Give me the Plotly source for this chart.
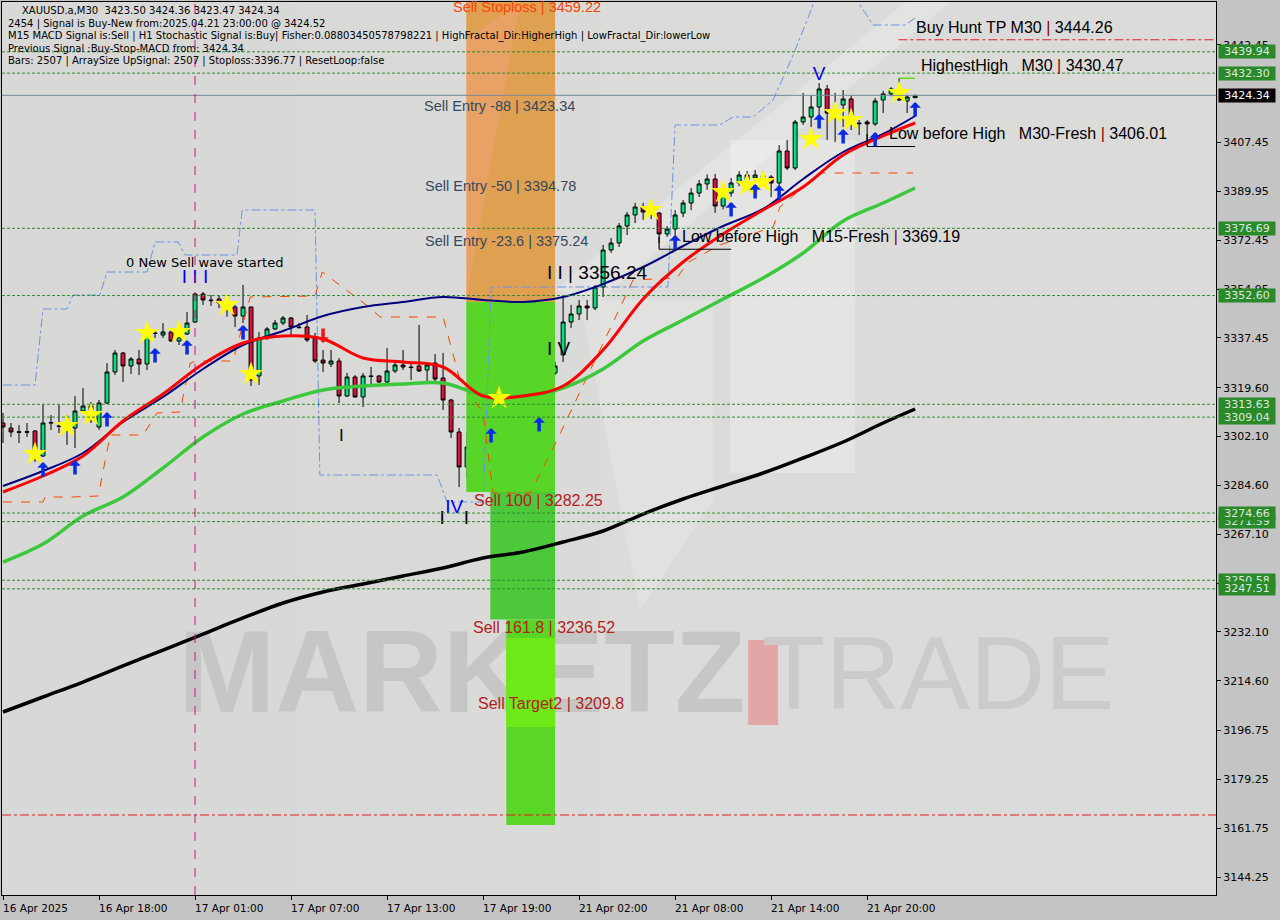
import plotly.graph_objects as go

# ---------------- data ----------------
bar_index = list(range(115))
open_ = [3306.93,3305.14,3303.80,3303.60,3304.07,3295.11,3306.90,3305.90,3305.50,3305.14,
         3311.23,3313.02,3305.50,3314.10,3325.21,3332.02,3327.36,3329.86,3328.07,3339.20,
         3338.47,3339.54,3336.30,3338.83,3343.12,3353.16,3351.00,3351.37,3349.90,3348.50,
         3345.27,3348.50,3323.78,3337.40,3340.62,3342.77,3344.56,3341.30,3341.33,3337.40,
         3329.50,3328.07,3329.15,3316.61,3323.42,3316.25,3323.80,3323.78,3321.62,3325.57,
         3327.72,3327.00,3327.36,3325.92,3328.43,3323.06,3315.17,3303.71,3291.17,3298.33,
         3296.54,3310.16,3317.30,3315.17,3319.30,3319.12,3317.33,3312.66,3321.26,3324.85,
         3331.30,3343.12,3345.99,3348.86,3348.14,3355.67,3368.92,3371.43,3377.53,3381.47,
         3384.33,3382.50,3382.18,3374.66,3376.45,3382.18,3385.77,3389.35,3392.58,3394.37,
         3384.69,3389.35,3392.93,3395.80,3394.70,3395.50,3395.08,3392.93,3404.40,3398.31,
         3414.79,3416.58,3420.17,3426.62,3418.00,3420.88,3423.04,3414.40,3414.80,3414.07,
         3422.68,3424.83,3423.75,3422.32,3423.50]
high = [3310.52,3306.93,3306.21,3306.93,3304.40,3313.74,3309.80,3313.38,3309.80,3316.61,
        3319.47,3314.46,3315.17,3328.43,3333.09,3332.40,3330.58,3333.09,3342.77,3340.26,
        3342.77,3340.26,3341.00,3346.71,3353.50,3353.87,3352.80,3352.80,3351.50,3349.22,
        3356.38,3348.60,3339.54,3341.33,3343.84,3345.27,3344.90,3342.80,3345.63,3339.18,
        3333.09,3333.09,3330.22,3324.85,3324.10,3324.85,3327.00,3324.10,3333.81,3329.50,
        3333.09,3328.80,3342.05,3328.80,3331.66,3332.02,3315.50,3305.14,3303.35,3300.12,
        3312.31,3316.25,3322.30,3322.34,3320.90,3319.47,3318.05,3322.34,3325.92,3328.79,
        3352.80,3349.22,3351.01,3351.00,3356.38,3370.72,3373.20,3378.60,3382.54,3385.80,
        3385.80,3386.00,3382.50,3377.50,3383.20,3386.80,3391.10,3394.00,3396.00,3396.16,
        3390.50,3394.70,3397.20,3397.20,3397.60,3397.00,3395.80,3406.55,3408.34,3415.51,
        3425.18,3424.47,3428.77,3428.05,3425.20,3426.26,3424.47,3415.50,3415.50,3423.40,
        3425.90,3427.30,3430.47,3424.50,3424.36]
low = [3299.77,3301.92,3299.77,3301.92,3292.96,3294.75,3304.43,3303.35,3299.05,3297.97,
       3310.87,3306.93,3304.43,3313.74,3324.14,3321.62,3324.49,3324.14,3325.92,3337.40,
       3337.40,3336.00,3334.90,3338.47,3342.77,3349.22,3348.90,3348.10,3345.00,3341.33,
       3342.77,3320.19,3320.55,3336.70,3340.26,3342.00,3338.47,3340.90,3335.96,3328.43,
       3325.21,3327.00,3314.10,3316.25,3316.00,3312.66,3319.83,3321.30,3321.26,3324.85,
       3325.92,3322.34,3325.21,3321.62,3321.62,3311.59,3301.56,3284.00,3287.22,3293.67,
       3294.75,3308.72,3316.60,3314.10,3317.70,3314.10,3310.52,3311.95,3319.83,3324.14,
       3328.79,3341.00,3343.84,3343.80,3347.40,3352.08,3367.90,3370.00,3374.30,3378.60,
       3379.70,3380.00,3371.43,3373.60,3372.50,3380.70,3383.20,3387.90,3390.50,3382.18,
       3383.50,3388.00,3391.80,3392.60,3393.30,3392.00,3387.92,3386.84,3397.59,3397.59,
       3413.72,3413.00,3414.40,3408.34,3407.60,3413.00,3411.92,3410.10,3408.30,3413.40,
       3418.00,3424.00,3422.30,3418.00,3423.47]
close = [3305.50,3303.71,3303.60,3303.80,3296.18,3306.93,3307.10,3305.70,3306.20,3311.23,
         3313.02,3311.23,3314.10,3325.21,3332.02,3327.36,3329.86,3328.07,3339.18,3339.00,
         3339.54,3336.32,3337.80,3342.77,3353.16,3351.01,3350.80,3349.94,3349.50,3345.27,
         3348.50,3322.34,3337.40,3340.62,3342.77,3344.56,3341.33,3341.10,3336.68,3329.15,
         3328.43,3329.15,3316.61,3323.42,3316.25,3323.78,3323.60,3321.62,3325.57,3327.72,
         3327.00,3326.80,3325.57,3327.72,3322.70,3315.17,3303.71,3291.17,3298.33,3296.54,
         3309.08,3315.53,3317.50,3319.12,3319.50,3317.33,3312.66,3320.19,3324.85,3327.36,
         3343.12,3345.99,3348.86,3348.14,3355.67,3368.92,3371.43,3377.53,3381.47,3384.33,
         3382.54,3383.60,3374.66,3376.45,3381.47,3385.77,3389.35,3392.58,3394.37,3384.69,
         3389.35,3392.93,3395.80,3394.01,3395.80,3394.00,3392.93,3404.40,3398.31,3414.79,
         3416.58,3420.17,3426.62,3418.02,3418.50,3423.04,3414.43,3414.20,3414.10,3422.32,
         3424.83,3426.62,3422.68,3423.75,3424.34]

ma_bars = [0,5,10,15,20,25,30,35,40,45,50,55,60,65,70,75,80,85,90,95,100,105,110,114]
ma_navy = [3284.36,3289.73,3296.18,3307.29,3316.25,3326.28,3334.88,3339.90,3345.27,3348.50,
           3350.29,3352.08,3351.01,3350.29,3352.08,3356.74,3362.83,3370.36,3377.53,3383.62,
           3394.37,3404.04,3410.49,3416.94]
ma_red = [3282.21,3287.94,3295.11,3307.65,3317.33,3328.07,3335.60,3338.11,3337.03,3330.22,
          3328.79,3327.00,3316.61,3316.61,3320.19,3333.09,3351.37,3364.62,3374.66,3383.26,
          3391.50,3402.97,3409.78,3414.43]
ma_green = [3257.12,3263.57,3273.61,3280.41,3290.81,3301.92,3310.16,3314.82,3318.76,3320.19,
            3320.91,3321.26,3316.97,3316.61,3319.47,3326.28,3336.32,3343.84,3351.37,3358.89,
            3367.85,3379.32,3385.77,3391.14]
ma_black = [3203.37,3208.75,3214.12,3219.86,3225.59,3231.32,3237.06,3242.43,3246.37,3249.24,
            3252.11,3254.97,3258.56,3260.71,3264.29,3268.23,3274.32,3279.70,3284.36,3289.01,
            3294.39,3300.12,3306.93,3311.95]

upper_ch_bars = [0,4,5,8,8.75,12.1,13,18,19,21.9,22.75,29.25,29.9,39,39.6,54.25,55.5,60,61,
                 83.1,84,89.6,91.25,93.75,96.25,98.75,101.1,101.9,106.5,107.1,108.75,112.75,114]
upper_ch_price = [3320.55,3320.55,3347.78,3347.78,3352.80,3352.80,3361.04,3361.04,3371.79,3371.79,
                  3367.13,3367.13,3383.26,3383.26,3288.30,3288.30,3278.62,3278.62,3355.67,
                  3355.67,3413.72,3413.72,3416.58,3416.58,3422.68,3438.80,3455.64,3465.70,3465.70,
                  3456.72,3449.55,3449.55,3452.06]
lower_ch_bars = [0,5,5.25,8.6,11.9,13.4,17.5,19.25,22.1,23.4,24.25,28.75,30.9,39,39.9,41.25,45.9,
                 47.1,55,57.1,60,61.25,65.9,69.25,74.6,78.75,84.25,85.5,89.6,96.25,97.1,102.1,113.75]
lower_ch_price = [3278.62,3278.62,3280.41,3280.41,3280.77,3302.63,3302.63,3310.52,3310.87,3328.43,
                  3329.15,3329.15,3352.08,3352.44,3361.04,3358.18,3348.14,3344.92,3344.92,3322.34,
                  3310.52,3281.85,3281.85,3300.84,3333.09,3358.18,3358.89,3364.27,3370.72,3377.17,
                  3384.33,3396.52,3396.52]

star_bars = [4,8,11,18,22,28,31,62,81,90,93,95,101,104,106,112]
star_price = [3295.82,3305.86,3309.80,3339.18,3339.54,3349.22,3324.49,3315.89,3383.26,3389.71,
              3392.22,3393.29,3408.70,3418.02,3415.51,3425.18]
up_arrow_bars = [5,9,13,19,23,30,61,67,84,91,94,97,102,105,109,114]
up_arrow_price = [3290.09,3290.81,3308.01,3330.94,3333.81,3339.18,3302.27,3306.21,3371.43,3383.26,
                  3389.71,3389.35,3414.79,3409.42,3408.34,3419.09]
down_arrow_bars = [40]
down_arrow_price = [3338.47]

level_prices = [3439.94, 3432.30, 3376.69, 3352.60, 3313.63, 3309.04, 3271.59, 3274.66, 3250.58, 3247.51]
current_price = 3424.34
buy_hunt_tp = 3444.26
buy_hunt_tp_start = 111.9
low_red_level = 3166.47
highest_high = 3430.47
highest_high_bars = [112, 114]
lbh_m30 = 3406.01
lbh_m30_bars = [108, 114]
lbh_m15 = 3369.19
lbh_m15_bars = [82, 91]
day_sep_bar = 24

# sell zones: [x0, x1, top, bottom]
zone_x0 = [57.9, 57.9, 60.9, 62.9, 62.9]
zone_x1 = [69.0, 69.0, 69.0, 69.0, 69.0]
zone_top = [3459.22, 3350.30, 3282.25, 3236.52, 3229.90]
zone_bottom = [3350.30, 3282.25, 3236.52, 3162.90, 3198.00]

xtick_bars = [0, 12, 24, 36, 48, 60, 72, 84, 96, 108]
xtick_text = ["16 Apr 2025", "16 Apr 18:00", "17 Apr 01:00", "17 Apr 07:00", "17 Apr 13:00",
              "17 Apr 19:00", "21 Apr 02:00", "21 Apr 08:00", "21 Apr 14:00", "21 Apr 20:00"]
ytick_vals = [3442.45, 3407.45, 3389.95, 3372.45, 3354.95, 3337.45, 3319.60, 3302.10, 3284.60,
              3267.10, 3249.60, 3232.10, 3214.60, 3196.75, 3179.25, 3161.75, 3144.25]

header_lines = [
    "XAUUSD.a,M30  3423.50 3424.36 3423.47 3424.34",
    "2454 | Signal is Buy-New from:2025.04.21 23:00:00 @ 3424.52",
    "M15 MACD Signal is:Sell | H1 Stochastic Signal is:Buy| Fisher:0.08803450578798221 | HighFractal_Dir:HigherHigh | LowFractal_Dir:lowerLow",
    "Previous Signal :Buy-Stop-MACD from: 3424.34",
    "Bars: 2507 | ArraySize UpSignal: 2507 | Stoploss:3396.77 | ResetLoop:false",
]

NB = "\u00a0"
# chart labels: text, bar, price
label_text = [
    "Sell Stoploss | 3459.22", "Sell Entry -88 | 3423.34", "Sell Entry -50 | 3394.78",
    "Sell Entry -23.6 | 3375.24", "I I | 3356.24", "I V", "I", "0 New Sell wave started",
    "Buy Hunt TP M30 <span style='color:#8b0000'>|</span> 3444.26",
    "HighestHigh" + NB * 3 + "M30 <span style='color:#8b0000'>|</span> 3430.47",
    "Low before High" + NB * 3 + "M30-Fresh <span style='color:#8b0000'>|</span> 3406.01",
    "Low before High" + NB * 3 + "M15-Fresh <span style='color:#8b0000'>|</span> 3369.19",
    "Sell 100 | 3282.25", "Sell 161.8 | 3236.52", "Sell Target2 | 3209.8",
]
label_bar = [56.0, 52.4, 52.5, 52.5, 67.75, 67.75, 41.8, 15.1, 113.9, 114.5, 110.5, 84.6, 58.6, 58.5, 59.1]
label_price = [3456.0, 3420.5, 3391.9, 3372.2, 3361.0, 3333.8, 3302.6, 3364.3, 3448.8, 3434.9,
               3410.5, 3373.6, 3279.0, 3233.5, 3206.6]
label_color = ["#ff4500", "#34495e", "#34495e", "#34495e", "#000000", "#000000", "#000000", "#000000",
               "#000000", "#000000", "#000000", "#000000", "#b22222", "#b22222", "#b22222"]
label_size = [14.5, 14.5, 14.5, 14.5, 19, 19, 17, 13, 16, 16, 16, 16, 16, 16, 16]

blue_text = ["I I I", "V", "IV"]
blue_bar = [24, 102, 56.4]
blue_price = [3358.9, 3431.6, 3276.5]
black_mark_text = ["I\u2002\u2002I"]
black_mark_bar = [56.4]
black_mark_price = [3272.6]

# ---------------- figure ----------------
X0, X1 = -0.125, 151.6
Y0, Y1 = 3137.8, 3457.79

def dx(px):  # decoration helper: pixel x -> bar axis
    return (px - 3) / 8.0

def dy(py):  # decoration helper: pixel y -> price axis
    return 3458.51 - 0.35834 * py

fig = go.Figure()

# watermark text (below everything)
fig.add_trace(go.Scatter(x=[dx(462)], y=[dy(683)], mode="text", text=["<b>MARKETZ</b>"],
                         textfont=dict(family="Liberation Sans", size=116, color="#c6c6c6"),
                         hoverinfo="skip"))
fig.add_trace(go.Scatter(x=[dx(938)], y=[dy(683)], mode="text", text=["TRADE"],
                         textfont=dict(family="Liberation Sans", size=104, color="#cbcbcb"),
                         hoverinfo="skip"))

zone_colors = ["#e0a052", "#58d628", "#4cc83a", "#5ad626", "#6fe818"]
for x0, x1, t, b, c in zip(zone_x0, zone_x1, zone_top, zone_bottom, zone_colors):
    fig.add_trace(go.Scatter(x=[x0, x1, x1, x0, x0], y=[t, t, b, b, t], mode="lines",
                             fill="toself", fillcolor=c, line=dict(width=0), hoverinfo="skip"))
# light watermark tint over the orange zone
fig.add_trace(go.Scatter(x=[dx(466), dx(520), dx(466)], y=[dy(40), dy(2), dy(300)],
                         mode="lines", fill="toself", fillcolor="rgba(255,170,150,0.30)",
                         line=dict(width=0), hoverinfo="skip"))

# candles
fig.add_trace(go.Candlestick(
    x=bar_index, open=open_, high=high, low=low, close=close,
    increasing=dict(line=dict(color="#000000", width=1), fillcolor="#00e07a"),
    decreasing=dict(line=dict(color="#000000", width=1), fillcolor="#d4143c"),
    whiskerwidth=0, hoverinfo="skip"))

# channels
fig.add_trace(go.Scatter(x=upper_ch_bars, y=upper_ch_price, mode="lines",
                         line=dict(color="#6a92e6", width=1, dash="dashdot")))
fig.add_trace(go.Scatter(x=lower_ch_bars, y=lower_ch_price, mode="lines",
                         line=dict(color="#ff4500", width=1, dash="dash")))

# moving averages
fig.add_trace(go.Scatter(x=ma_bars, y=ma_black, mode="lines", line=dict(color="#000000", width=3.5, shape="spline")))
fig.add_trace(go.Scatter(x=ma_bars, y=ma_green, mode="lines", line=dict(color="#3cc83c", width=3.5, shape="spline")))
fig.add_trace(go.Scatter(x=ma_bars, y=ma_navy, mode="lines", line=dict(color="#000080", width=2, shape="spline")))
fig.add_trace(go.Scatter(x=ma_bars, y=ma_red, mode="lines", line=dict(color="#ff0000", width=3, shape="spline")))

# markers
fig.add_trace(go.Scatter(x=star_bars, y=star_price, mode="markers",
                         marker=dict(symbol="star", size=18, color="#ffff00", line=dict(width=0))))
fig.add_trace(go.Scatter(x=blue_bar, y=blue_price, mode="text", text=blue_text,
                         textfont=dict(family="Liberation Sans", size=19, color="#0000ff")))
fig.add_trace(go.Scatter(x=black_mark_bar, y=black_mark_price, mode="text", text=black_mark_text,
                         textfont=dict(family="Liberation Sans", size=19, color="#000000")))

shapes = []
# soft background lightening toward the centre/right (watermark gradient)
for px0, op in ((300, 0.04), (450, 0.04), (600, 0.04)):
    shapes.append(dict(type="rect", xref="x", yref="y", x0=dx(px0), x1=X1, y0=Y0, y1=Y1,
                       fillcolor="rgba(255,255,255,%.2f)" % op, line=dict(width=0), layer="below"))
# watermark pieces
shapes.append(dict(type="rect", xref="x", yref="y", x0=dx(748), x1=dx(778), y0=dy(725), y1=dy(640),
                   fillcolor="#e3a6a6", line=dict(width=0), layer="below"))
shapes.append(dict(type="rect", xref="x", yref="y", x0=dx(730), x1=dx(855), y0=dy(473), y1=dy(140),
                   fillcolor="rgba(255,255,255,0.25)", line=dict(width=0), layer="below"))
shapes.append(dict(type="path", xref="x", yref="y", layer="below", line=dict(width=0),
                   fillcolor="rgba(255,255,255,0.18)",
                   path="M %f %f L %f %f L %f %f L %f %f Z" % (dx(580), dy(300), dx(713), dy(300),
                                                              dx(713), dy(500), dx(640), dy(610))))
shapes.append(dict(type="path", xref="x", yref="y", layer="below", line=dict(width=0),
                   fillcolor="rgba(255,255,255,0.22)",
                   path="M %f %f L %f %f L %f %f L %f %f Z" % (dx(905), dy(2), dx(950), dy(2),
                                                              dx(600), dy(300), dx(555), dy(290))))
for p in level_prices:
    shapes.append(dict(type="line", xref="paper", x0=0, x1=1, yref="y", y0=p, y1=p,
                       line=dict(color="#2e8b2e", width=1, dash="3px,2px")))
shapes.append(dict(type="line", xref="paper", x0=0, x1=1, yref="y", y0=current_price, y1=current_price,
                   line=dict(color="#778899", width=1)))
shapes.append(dict(type="line", xref="x", x0=buy_hunt_tp_start, x1=X1, yref="y", y0=buy_hunt_tp, y1=buy_hunt_tp,
                   line=dict(color="#e02020", width=1, dash="dashdot")))
shapes.append(dict(type="line", xref="paper", x0=0, x1=1, yref="y", y0=low_red_level, y1=low_red_level,
                   line=dict(color="#e02020", width=1, dash="dashdot")))
shapes.append(dict(type="line", xref="x", x0=day_sep_bar, x1=day_sep_bar, yref="paper", y0=0, y1=1,
                   line=dict(color="#c71585", width=1, dash="dash")))
shapes.append(dict(type="line", xref="x", x0=highest_high_bars[0], x1=highest_high_bars[1], yref="y",
                   y0=highest_high, y1=highest_high, line=dict(color="#66dd11", width=1.5)))
for lv, (b0, b1) in ((lbh_m30, lbh_m30_bars), (lbh_m15, lbh_m15_bars)):
    shapes.append(dict(type="line", xref="x", x0=b0, x1=b1, yref="y", y0=lv, y1=lv,
                       line=dict(color="#000000", width=1.2)))
    shapes.append(dict(type="line", xref="x", x0=b0, x1=b0, yref="y", y0=lv, y1=lv + 4.5,
                       line=dict(color="#000000", width=1.2)))

annotations = []
# signal arrows (thick MT4-style arrows)
for b, p in zip(up_arrow_bars, up_arrow_price):
    annotations.append(dict(xref="x", yref="y", x=b, y=p, yshift=8, ax=0, ay=16, text="",
                            showarrow=True, arrowhead=1, arrowsize=0.55, arrowwidth=3.5,
                            arrowcolor="#0a2be6", standoff=0))
for b, p in zip(down_arrow_bars, down_arrow_price):
    annotations.append(dict(xref="x", yref="y", x=b, y=p, yshift=-8, ax=0, ay=-16, text="",
                            showarrow=True, arrowhead=1, arrowsize=0.55, arrowwidth=3.5,
                            arrowcolor="#ff1010", standoff=0))
for i, t in enumerate(header_lines):
    annotations.append(dict(xref="paper", yref="paper", x=(6 - 2 + (14 if i == 0 else 0)) / 1214,
                            y=(895 - (11 + 12.6 * i)) / 893, xanchor="left", yanchor="middle",
                            text=t, showarrow=False,
                            font=dict(family="DejaVu Sans", size=10, color="#000000")))
for t, b, p, c, s in zip(label_text, label_bar, label_price, label_color, label_size):
    fam = "DejaVu Sans" if s == 13 else "Liberation Sans"
    annotations.append(dict(xref="x", yref="y", x=b, y=p, xanchor="left", yanchor="middle", text=t,
                            showarrow=False, font=dict(family=fam, size=s, color=c)))
for b, t in zip(xtick_bars, xtick_text):
    annotations.append(dict(xref="x", yref="paper", x=b, y=0, xanchor="left", yanchor="top", yshift=-5,
                            xshift=-2, text=t, showarrow=False,
                            font=dict(family="DejaVu Sans", size=10.5, color="#000000")))
for p in level_prices:
    annotations.append(dict(xref="paper", yref="y", x=1, y=p, xanchor="left", yanchor="middle", xshift=2,
                            text="%.2f" % p, showarrow=False, bgcolor="#2a8a2a", width=56, height=13,
                            borderpad=0, font=dict(family="DejaVu Sans", size=11, color="#dfe8df")))
annotations.append(dict(xref="paper", yref="y", x=1, y=current_price, xanchor="left", yanchor="middle",
                        xshift=2, text="%.2f" % current_price, showarrow=False, bgcolor="#000000",
                        width=56, height=13, borderpad=0,
                        font=dict(family="DejaVu Sans", size=11, color="#ffffff")))

fig.update_layout(
    width=1280, height=920, margin=dict(l=2, r=64, t=2, b=25),
    paper_bgcolor="#c4c4c4", plot_bgcolor="#d8d8d6", showlegend=False,
    shapes=shapes, annotations=annotations,
    xaxis=dict(range=[X0, X1], showgrid=False, zeroline=False, showline=True, linecolor="#000000",
               linewidth=1, mirror=True, ticks="outside", ticklen=4, tickcolor="#000000",
               tickvals=xtick_bars, showticklabels=False, rangeslider=dict(visible=False), fixedrange=True),
    yaxis=dict(range=[Y0, Y1], side="right", showgrid=False, zeroline=False, showline=True,
               linecolor="#000000", linewidth=1, mirror=True, ticks="outside", ticklen=4,
               tickcolor="#000000", tickvals=ytick_vals, ticktext=["%.2f" % v for v in ytick_vals],
               tickfont=dict(family="DejaVu Sans", size=11, color="#000000"), fixedrange=True),
)

fig.write_html("out.html", config={"displayModeBar": False},
               post_script="document.body.style.margin='0px';document.body.style.padding='0px';")
